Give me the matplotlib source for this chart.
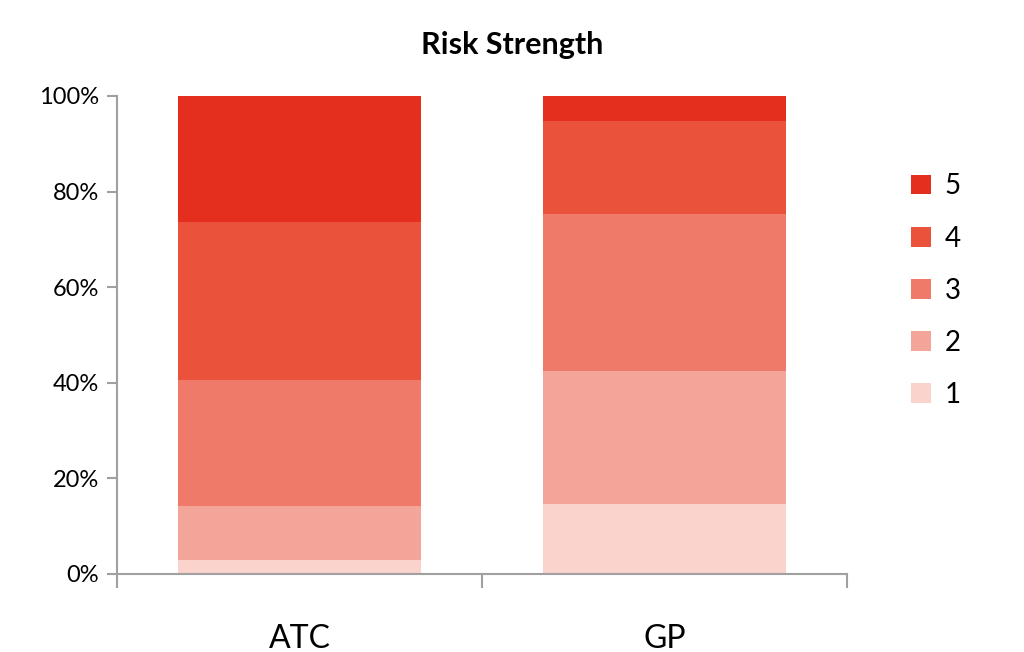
import matplotlib
matplotlib.use("Agg")
import matplotlib.pyplot as plt
import numpy as np

plt.rcParams["font.family"] = ["Lato", "DejaVu Sans"]

CATEGORIES = ["ATC", "GP"]
LEVELS = ["1", "2", "3", "4", "5"]
# share (%) of each risk level per group, bottom (1) to top (5)
VALUES = {
    "1": [2.9, 14.6],
    "2": [11.4, 27.9],
    "3": [26.2, 32.8],
    "4": [33.1, 19.5],
    "5": [26.4, 5.2],
}
COLORS = {"1": "#F9D3CC", "2": "#F4A59A", "3": "#EF7A6A", "4": "#EA523C", "5": "#E52F1E"}
AXIS_GREY = "#A0A0A0"


def main():
    fig = plt.figure(figsize=(10.24, 6.52), dpi=100)
    ax = fig.add_axes([117 / 1024, 1 - 574 / 652, 730 / 1024, 478 / 652])

    x = np.arange(len(CATEGORIES))
    bottom = np.zeros(len(CATEGORIES))
    handles = []
    for lv in LEVELS:
        vals = np.array(VALUES[lv])
        h = ax.bar(x, vals, 0.666, bottom=bottom, color=COLORS[lv], label=lv, linewidth=0)
        handles.append(h)
        bottom += vals

    ax.set_xlim(-0.5, len(CATEGORIES) - 0.5)
    ax.set_ylim(0, 100)
    ax.set_yticks(range(0, 101, 20))
    ax.set_yticklabels([f"{v}%" for v in range(0, 101, 20)], fontsize=17)

    # category labels centred, tick marks on category boundaries
    ax.set_xticks(x)
    ax.set_xticklabels(CATEGORIES, fontsize=23)
    ax.tick_params(axis="x", length=0, pad=36)
    ax.set_xticks(np.arange(-0.5, len(CATEGORIES)), minor=True)
    ax.tick_params(axis="x", which="minor", length=10, width=1.5, color=AXIS_GREY, direction="out")
    ax.tick_params(axis="y", length=7, width=1.5, color=AXIS_GREY, direction="out", pad=6)

    for s in ["top", "right"]:
        ax.spines[s].set_visible(False)
    for s in ["left", "bottom"]:
        ax.spines[s].set_color(AXIS_GREY)
        ax.spines[s].set_linewidth(1.5)

    fig.text(512 / 1024, 1 - 45 / 652, "Risk Strength", ha="center", va="center",
             fontsize=22, fontweight="bold")

    ax.legend(handles[::-1], LEVELS[::-1], loc="upper left",
              bbox_to_anchor=(892 / 1024, 1 - 154 / 652), bbox_transform=fig.transFigure,
              frameon=False, fontsize=20, handlelength=0.7, handleheight=0.7,
              handletextpad=0.5, labelspacing=0.94, borderpad=0.2)

    fig.savefig("out.png", dpi=100)


if __name__ == "__main__":
    main()
